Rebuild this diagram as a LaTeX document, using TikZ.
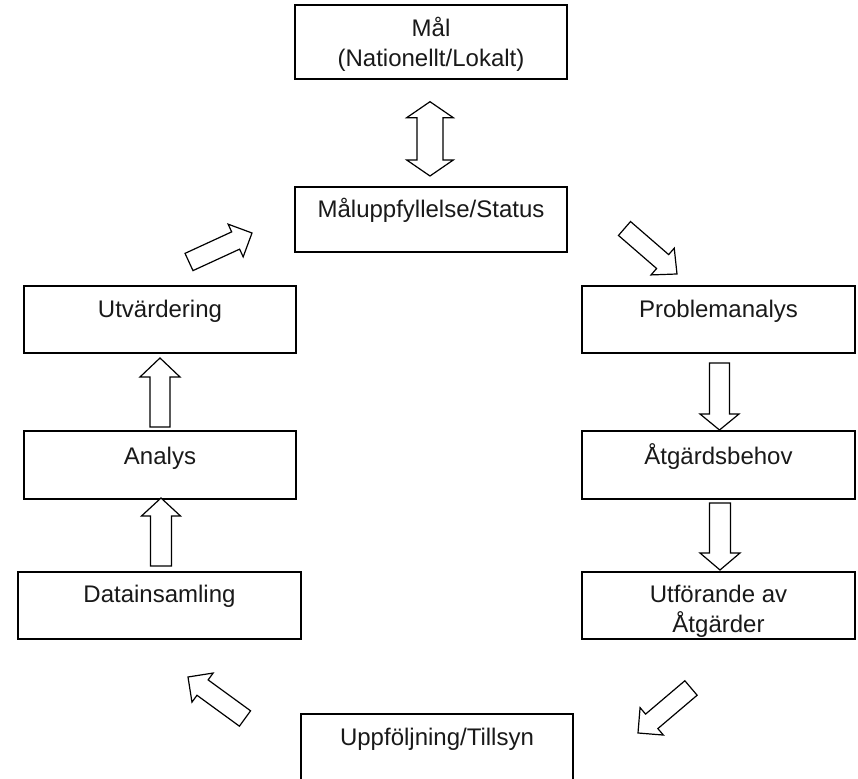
\documentclass[tikz,border=0pt]{standalone}
\usepackage{fontspec}
\setmainfont{Liberation Sans}
\usetikzlibrary{calc}
\tikzset{
  box/.style={draw=black, line width=1pt, fill=white, inner sep=0pt},
  lbl/.style={anchor=base, inner sep=0pt, font=\fontsize{12}{15}\selectfont, align=center, text=black!90},
  barrow/.style={draw=black, line width=0.6pt, fill=white, line join=miter},
}
% #1 tail, #2 tip, #3 half shaft, #4 half head, #5 head length
\newcommand\blockarr[5]{%
  \coordinate (ba-s) at ($(#2)!#5!(#1)$);
  \draw[barrow] ($(#1)!#3!90:(#2)$) -- ($(ba-s)!#3!90:(#2)$) -- ($(ba-s)!#4!90:(#2)$) -- (#2)
     -- ($(ba-s)!#4!-90:(#2)$) -- ($(ba-s)!#3!-90:(#2)$) -- ($(#1)!#3!-90:(#2)$) -- cycle;
}
\begin{document}
\begin{tikzpicture}[x=0.5pt, y=-0.5pt]
\useasboundingbox (0,0) rectangle (858,779);
\fill[white] (0,0) rectangle (858,779);
\begin{scope}
\clip (0,0) rectangle (858,779);
% boxes
\node[box, minimum width=136pt, minimum height=37pt] (mal) at (431,42) {};
\node[box, minimum width=136pt, minimum height=32.5pt] (status) at (431,219.5) {};
\node[box, minimum width=136pt, minimum height=33.5pt] (utv) at (160,319.5) {};
\node[box, minimum width=136.5pt, minimum height=33.5pt] (prob) at (718.5,319.5) {};
\node[box, minimum width=136pt, minimum height=34pt] (analys) at (160,465) {};
\node[box, minimum width=136.5pt, minimum height=34pt] (atg) at (718.5,465) {};
\node[box, minimum width=141.5pt, minimum height=33.5pt] (data) at (159.5,605.5) {};
\node[box, minimum width=136.5pt, minimum height=33.5pt] (utf) at (718.5,605.5) {};
\node[box, minimum width=136pt, minimum height=38pt] (upp) at (437,752) {};
% texts (base anchor = baseline of last line)
\node[lbl] (mal-t) at (431,67) {Mål\\(Nationellt/Lokalt)};
\node[lbl] (status-t) at (431,218) {Måluppfyllelse/Status};
\node[lbl] (utv-t) at (160,318) {Utvärdering};
\node[lbl] (prob-t) at (718.5,318) {Problemanalys};
\node[lbl] (analys-t) at (160,465) {Analys};
\node[lbl] (atg-t) at (718.5,465) {Åtgärdsbehov};
\node[lbl] (data-t) at (159.5,603) {Datainsamling};
\node[lbl] (utf-t) at (718.5,633) {Utförande av\\Åtgärder};
\node[lbl] (upp-t) at (437,746) {Uppföljning/Tillsyn};
% double arrow
\coordinate (d1) at (430,101.7);
\coordinate (d2) at (430,176);
\coordinate (ds1) at ($(d1)!8pt!(d2)$);
\coordinate (ds2) at ($(d2)!8pt!(d1)$);
\draw[barrow] (d1) -- ($(ds1)!11.65pt!90:(d2)$) -- ($(ds1)!6.5pt!90:(d2)$) -- ($(ds2)!6.5pt!-90:(d1)$)
   -- ($(ds2)!11.65pt!-90:(d1)$) -- (d2) -- ($(ds2)!11.65pt!90:(d1)$) -- ($(ds2)!6.5pt!90:(d1)$)
   -- ($(ds1)!6.5pt!-90:(d2)$) -- ($(ds1)!11.65pt!-90:(d2)$) -- cycle;
% single block arrows
\coordinate (ne-t) at (189,262);   \coordinate (ne-h) at (252,233);
\coordinate (se-t) at (624.5,228.5); \coordinate (se-h) at (677,274);
\coordinate (d1-t) at (719.5,363); \coordinate (d1-h) at (719.5,430);
\coordinate (d2-t) at (720,503);   \coordinate (d2-h) at (720,570);
\coordinate (sw-t) at (691,688);   \coordinate (sw-h) at (638,733);
\coordinate (nw-t) at (245,718.5); \coordinate (nw-h) at (188,677);
\coordinate (u2-t) at (161,566);   \coordinate (u2-h) at (161,498);
\coordinate (u1-t) at (160,427);   \coordinate (u1-h) at (160,358);
\blockarr{ne-t}{ne-h}{4.75pt}{9pt}{9pt}
\blockarr{se-t}{se-h}{4.6pt}{8.85pt}{9.5pt}
\blockarr{d1-t}{d1-h}{5pt}{9.75pt}{8pt}
\blockarr{d2-t}{d2-h}{5.25pt}{10pt}{8.5pt}
\blockarr{sw-t}{sw-h}{4.75pt}{9pt}{9pt}
\blockarr{nw-t}{nw-h}{4.75pt}{9pt}{9pt}
\blockarr{u2-t}{u2-h}{5.25pt}{9.75pt}{9pt}
\blockarr{u1-t}{u1-h}{5pt}{10pt}{9.5pt}
\end{scope}
\end{tikzpicture}
\end{document}
